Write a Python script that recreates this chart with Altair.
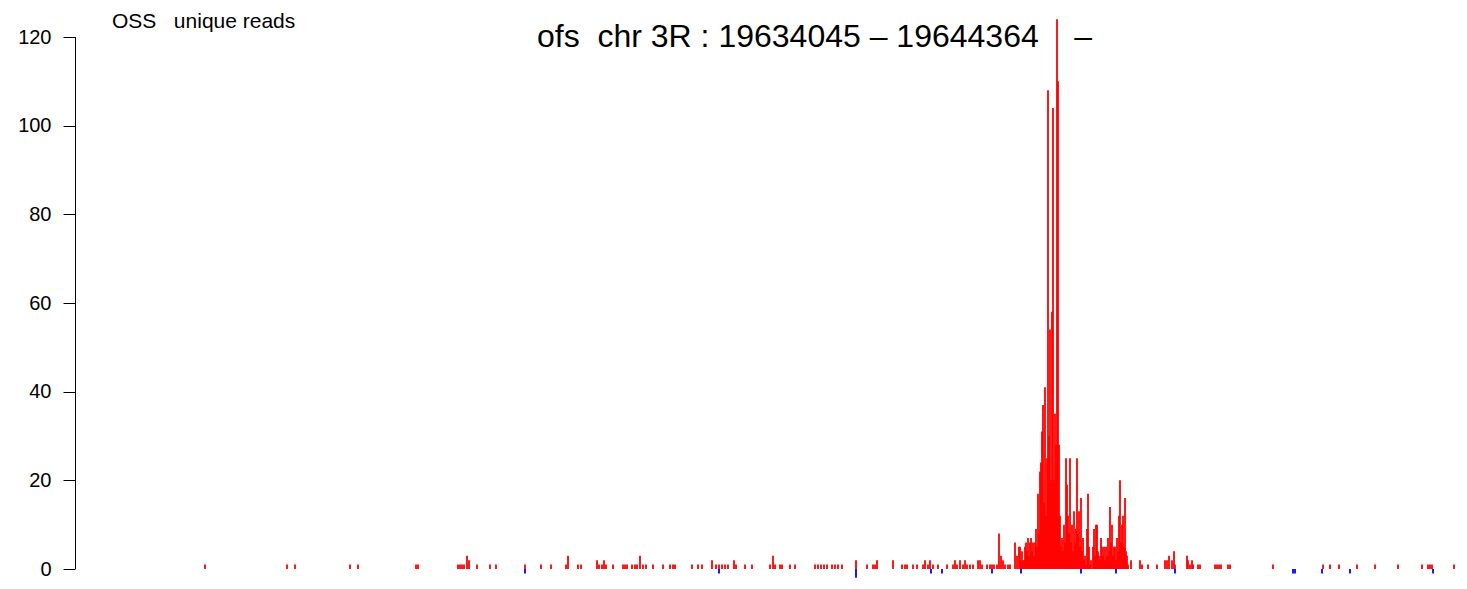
import altair as alt
import pandas as pd

# Locus and labels (non-breaking spaces keep the wide gaps of the original)
title_text = ["ofs\u00a0\u00a0chr 3R : 19634045 \u2013 19644364\u00a0\u00a0\u00a0\u00a0\u2013"]
subtitle_text = ["OSS\u00a0\u00a0 unique reads"]
y_ticks = [0, 20, 40, 60, 80, 100, 120]

# Positions are bp offsets from locus start (19634045); reads are unique read counts
red_pos = [
    632, 1288, 1352, 1792, 1856, 2320, 2336, 2656, 2672, 2688,
    2704, 2728, 2744, 2808, 2912, 2960, 3192, 3320, 3400, 3520,
    3536, 3616, 3640, 3768, 3784, 3808, 3824, 3840, 3896, 3976,
    3992, 4008, 4048, 4072, 4088, 4112, 4136, 4160, 4216, 4296,
    4352, 4376, 4392, 4528, 4576, 4608, 4688, 4720, 4744, 4768,
    4792, 4816, 4864, 4880, 4952, 5008, 5152, 5176, 5192, 5232,
    5248, 5312, 5352, 5512, 5536, 5560, 5584, 5608, 5648, 5672,
    5696, 5728, 5840, 5928, 5976, 5992, 6008, 6136, 6208, 6232,
    6248, 6296, 6328, 6376, 6392, 6416, 6432, 6456, 6496, 6568,
    6616, 6632, 6648, 6672, 6696, 6712, 6728, 6752, 6776, 6816,
    6832, 6848, 6888, 6912, 6928, 6944, 6968, 6984, 7000, 7016,
    7032, 7056, 7072, 7112, 7128, 7144,
    7152, 7160, 7168, 7176, 7184, 7192, 7200, 7208, 7216, 7224,
    7232, 7240, 7248, 7256, 7264, 7272, 7280, 7288, 7296, 7304,
    7312, 7320, 7328, 7336, 7344, 7352, 7360, 7368, 7376, 7384,
    7392, 7400, 7408, 7416, 7424, 7432, 7440, 7448, 7456, 7464,
    7472, 7480, 7488, 7496, 7504, 7512, 7520, 7528, 7536, 7544,
    7552, 7560, 7568, 7576, 7584, 7592, 7600, 7608, 7616, 7624,
    7632, 7640, 7648, 7656, 7664, 7672, 7680, 7688, 7696, 7704,
    7712, 7720, 7736, 7744, 7752, 7760, 7768, 7776, 7784, 7792,
    7800, 7808, 7816, 7824, 7832, 7840, 7848, 7856, 7864, 7872,
    7880, 7888, 7896, 7904, 7912, 7920, 7928, 7936, 7944, 7952,
    7960, 7968, 7976, 7984, 7992, 8000, 8008, 8016,
    8040, 8112, 8128, 8176, 8248, 8312, 8328, 8344, 8368, 8384,
    8392, 8488, 8496, 8512, 8528, 8536, 8576, 8592, 8712, 8728,
    8744, 8760, 8816, 8832, 9176, 9576, 9632, 9704, 9848, 9992,
    10176, 10368, 10416, 10432, 10448, 10624,
]
red_reads = [
    1, 1, 1, 1, 1, 1, 1, 1, 1, 1,
    1, 3, 2, 1, 1, 1, 1, 1, 1, 1,
    3, 1, 1, 2, 1, 1, 2, 1, 1, 1,
    1, 1, 1, 1, 1, 3, 1, 1, 1, 1,
    1, 1, 1, 1, 1, 1, 2, 1, 1, 1,
    1, 1, 2, 1, 1, 1, 1, 3, 1, 1,
    1, 1, 1, 1, 1, 1, 1, 1, 1, 1,
    1, 1, 2, 1, 1, 1, 2, 2, 1, 1,
    1, 1, 1, 1, 2, 1, 2, 1, 1, 1,
    1, 2, 1, 2, 1, 2, 1, 1, 1, 2,
    2, 1, 1, 1, 1, 1, 1, 8, 3, 2,
    1, 1, 1, 6, 3, 5,
    5, 2, 4, 2, 2, 5, 6, 4, 7, 3,
    6, 7, 4, 6, 3, 6, 9, 5, 17, 8,
    22, 24, 31, 37, 15, 41, 12, 25, 108, 30,
    54, 20, 58, 104, 20, 35, 28, 124, 110, 28,
    12, 5, 7, 4, 10, 6, 25, 19, 12, 8,
    25, 6, 10, 4, 13, 6, 9, 25, 8, 13,
    5, 16, 4, 7, 2, 3, 1, 9, 17, 5,
    1, 2, 5, 9, 3, 10, 10, 4, 3, 2,
    7, 5, 3, 5, 2, 5, 3, 7, 4, 14,
    6, 10, 3, 5, 5, 2, 7, 4, 12, 20,
    6, 10, 12, 5, 16, 4, 3, 1,
    2, 2, 1, 1, 1, 2, 2, 3, 2, 4,
    1, 3, 2, 1, 2, 1, 1, 1, 1, 1,
    1, 1, 1, 1, 1, 1, 1, 1, 1, 1,
    1, 1, 1, 1, 1, 1,
]
blue_pos = [3192, 4744, 5840, 6440, 6528, 6928, 7160, 7640, 7920, 8392,
            9336, 9352, 9568, 9792, 10456]
blue_reads = [-1, -1, -2, -1, -1, -1, -1, -1, -1, -1,
              -1, -1, -1, -1, -1]

plus = pd.DataFrame({"pos": red_pos, "reads": red_reads, "strand": "+"})
minus = pd.DataFrame({"pos": blue_pos, "reads": blue_reads, "strand": "-"})
df = pd.concat([plus, minus], ignore_index=True)

xscale = alt.Scale(domain=[-408, 10656], nice=False, zero=False)
yscale = alt.Scale(domain=[-2.481, 125.19], nice=False, zero=False)

yaxis = alt.Axis(
    values=y_ticks,
    tickSize=12,
    tickColor="black",
    tickWidth=1,
    domain=False,
    grid=False,
    labelFont="Liberation Sans",
    labelFontSize=20,
    labelColor="black",
    labelPadding=12,
    title=None,
)

bars = alt.Chart(df).mark_rule(strokeWidth=1.8).encode(
    x=alt.X("pos:Q", scale=xscale, axis=None),
    y=alt.Y("reads:Q", scale=yscale, axis=yaxis),
    y2=alt.datum(0),
    color=alt.Color(
        "strand:N",
        scale=alt.Scale(domain=["+", "-"], range=["#FF0000", "#0000FF"]),
        legend=None,
    ),
)

axis_line = alt.Chart(pd.DataFrame({"lo": [y_ticks[0]], "hi": [y_ticks[-1]]})).mark_rule(
    color="black", strokeWidth=1
).encode(x=alt.value(0.5), y=alt.Y("lo:Q", scale=yscale, axis=yaxis), y2="hi:Q")

subtitle = alt.Chart(pd.DataFrame({"t": subtitle_text})).mark_text(
    align="left", baseline="alphabetic", font="Liberation Sans", fontSize=21, color="black"
).encode(x=alt.value(37), y=alt.value(14), text="t:N")

title = alt.Chart(pd.DataFrame({"t": title_text})).mark_text(
    align="left", baseline="alphabetic", font="Liberation Sans", fontSize=32, color="black"
).encode(x=alt.value(462), y=alt.value(33), text="t:N")

chart = (
    alt.layer(bars, axis_line, subtitle, title)
    .properties(
        width=1383,
        height=566,
        autosize=alt.AutoSizeParams(type="none"),
        padding={"left": 67, "top": 6, "right": 0, "bottom": 0},
        background="white",
    )
    .configure_view(stroke=None)
)

chart.save("out.html", embed_options={"renderer": "svg", "actions": False})
